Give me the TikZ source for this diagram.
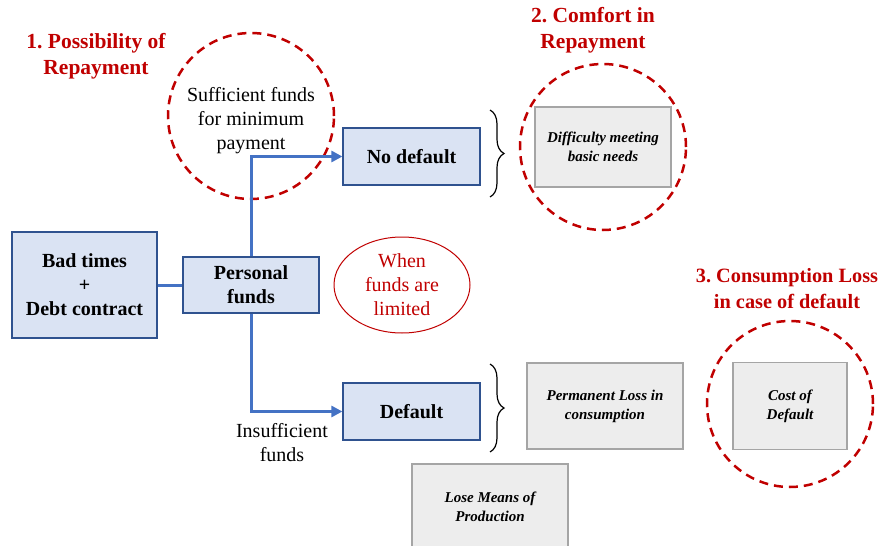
\documentclass[tikz,border=0pt]{standalone}
\usepackage{fontspec}
\setmainfont{Liberation Serif}
\usetikzlibrary{arrows.meta, positioning, shapes.geometric, decorations.pathreplacing}
\definecolor{boxblue}{HTML}{DAE3F3}
\definecolor{edgeblue}{HTML}{2F528F}
\definecolor{lineblue}{HTML}{4472C4}
\definecolor{boxgray}{HTML}{EDEDED}
\definecolor{edgegray}{HTML}{A5A5A5}
\definecolor{darkred}{HTML}{C00000}

\begin{document}
\begin{tikzpicture}[
    x=1pt, y=-1pt,
    stage/.style={rectangle, draw=edgeblue, fill=boxblue, line width=1.2pt, align=center, inner sep=0pt, font=\fontsize{20}{24}\selectfont\bfseries},
    effect/.style={rectangle, draw=edgegray, fill=boxgray, line width=1.5pt, align=center, inner sep=0pt, font=\fontsize{15}{19}\selectfont\bfseries\itshape},
    zone/.style={circle, draw=darkred, dash pattern=on 9pt off 6pt, line width=2.5pt, minimum size=166pt, inner sep=0pt},
    heading/.style={text=darkred, align=center, font=\fontsize{21.5}{26}\selectfont\bfseries},
    plain/.style={align=center, font=\fontsize{20}{24}\selectfont},
    flow/.style={draw=lineblue, line width=3pt, -{Triangle[length=11pt, width=11pt]}},
    link/.style={draw=lineblue, line width=3pt},
    curly/.style={decorate, decoration={brace, amplitude=14pt, aspect=0.5}, line width=1.2pt},
]

\useasboundingbox (0,0) rectangle (881,546);
\clip (0,0) rectangle (881,546);

% === Headings ===
\node (head1) [heading] at (96,56) {1.\ Possibility of\\Repayment};
\node (head2) [heading] at (593,30) {2.\ Comfort in\\Repayment};
\node (head3) [heading, font=\fontsize{20.3}{26}\selectfont\bfseries] at (787,289) {3.\ Consumption Loss\\in case of default};

% === Main flow ===
\node (bad) [stage, minimum width=145pt, minimum height=106pt] at (84.5,285) {Bad times\\+\\Debt contract};
\node (funds) [stage, minimum width=136pt, minimum height=56pt] at (251,285) {Personal\\funds};
\node (nodef) [stage, minimum width=137pt, minimum height=57pt] at (411.5,156.5) {No default};
\node (deflt) [stage, minimum width=137pt, minimum height=57pt] at (411.5,411.5) {Default};

% === Conditions ===
\node (zone1) [zone] at (251,116) {};
\node (suff) [plain] at (251,121) {Sufficient funds\\for minimum\\payment};
\node (insuff) [plain] at (282,443) {Insufficient\\funds};
\node (limited) [ellipse, draw=darkred, line width=1pt, minimum width=136pt, minimum height=96pt, inner sep=0pt, plain, text=darkred] at (402,285) {When\\funds are\\limited};

% === Consequences ===
\node (zone2) [zone] at (603,147) {};
\node (needs) [effect, minimum width=136pt, minimum height=80pt] at (603,147) {Difficulty meeting\\basic needs};
\node (permloss) [effect, minimum width=156pt, minimum height=86pt] at (605,406) {Permanent Loss in\\consumption};
\node (zone3) [zone] at (790,404) {};
\node (cost) [effect, minimum width=114pt, minimum height=87pt] at (790,406) {Cost of\\Default};
\node (lose) [effect, minimum width=156pt, minimum height=86pt] at (490,507) {Lose Means of\\Production};

% === Arrows ===
\draw[link] (bad.east) -- (funds.west);
\draw[flow] (funds.north) |- (nodef.west);
\draw[flow] (funds.south) |- (deflt.west);

% === Braces ===
\coordinate (brace1top) at (490,110);
\coordinate (brace1bot) at (490,197);
\coordinate (brace2top) at (490,364);
\coordinate (brace2bot) at (490,452);
\draw[curly] (brace1top) -- (brace1bot);
\draw[curly] (brace2top) -- (brace2bot);

\end{tikzpicture}
\end{document}
